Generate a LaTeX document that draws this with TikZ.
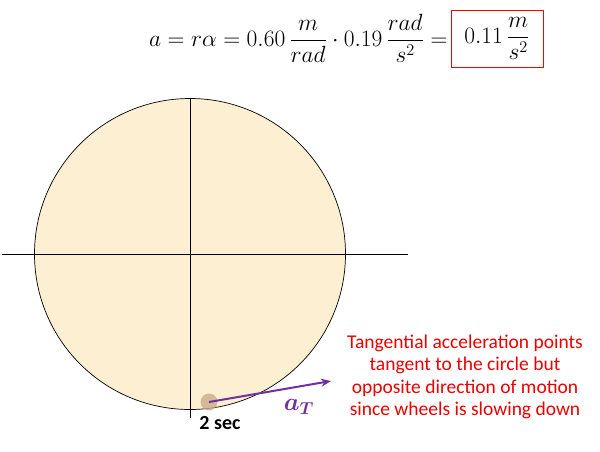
\documentclass[tikz,border=0pt]{standalone}
\usepackage{fontspec}
\setmainfont{Carlito}
\usepackage{amsmath}
\usetikzlibrary{positioning,arrows.meta}
\definecolor{wheelfill}{RGB}{253,240,210}
\definecolor{dotfill}{RGB}{205,170,140}
\definecolor{accpurple}{RGB}{112,48,160}
\definecolor{notered}{RGB}{235,0,0}
\newcommand{\eqsize}[1]{\scalebox{1.13}{#1}}

\begin{document}
\begin{tikzpicture}
	[x=1pt,y=-1pt,every node/.style={inner sep=0pt}]
	\tikzset{axis/.style = {draw=black, line width=0.7pt},
		acc/.style = {-{Stealth[length=10pt,width=8pt]}, draw=accpurple, line width=2pt},
		eqfont/.style = {font=\fontsize{20.74}{25}\selectfont}}
	\useasboundingbox (0,0) rectangle (600,451);
	% wheel
	\node[circle,draw=black,line width=0.7pt,fill=wheelfill,minimum size=311pt] (wheel) at (190,254) {};
	\coordinate (xl) at (2,254);
	\coordinate (xr) at (408,254);
	\coordinate (yt) at (190,98);
	\coordinate (yb) at (190,418);
	\draw[axis] (xl) -- (xr);
	\draw[axis] (yt) -- (yb);
	% position at 2 sec
	\node[circle,fill=dotfill,fill opacity=0.8,minimum size=17pt] (pos) at (209,402) {};
	\coordinate (tip) at (331,381);
	\draw[acc] (pos.center) -- (tip);
	\node[text=accpurple,font=\fontsize{25}{25}\selectfont] (aT) at (299,407) {$\boldsymbol{a_T}$};
	\node[font=\bfseries\fontsize{20}{20}\selectfont] (sec) at (220,423) {2 sec};
	% equation
	\node[draw=red,line width=0.8pt,minimum width=92pt,minimum height=57pt,eqfont] (res) at (497,38.5)
		{\eqsize{$0.11\,\dfrac{m}{s^2}$}};
	\node[anchor=east,eqfont] (eq) at ([xshift=-3pt]res.west)
		{\eqsize{$a = r\alpha = 0.60\,\dfrac{m}{rad}\cdot 0.19\,\dfrac{rad}{s^2} =$}};
	% note
	\node[align=center,text=notered,font=\fontsize{19.5}{22.5}\selectfont] (note) at (465,377)
		{Tangential acceleration points\\tangent to the circle but\\opposite direction of motion\\since wheels is slowing down};
\end{tikzpicture}
\end{document}
